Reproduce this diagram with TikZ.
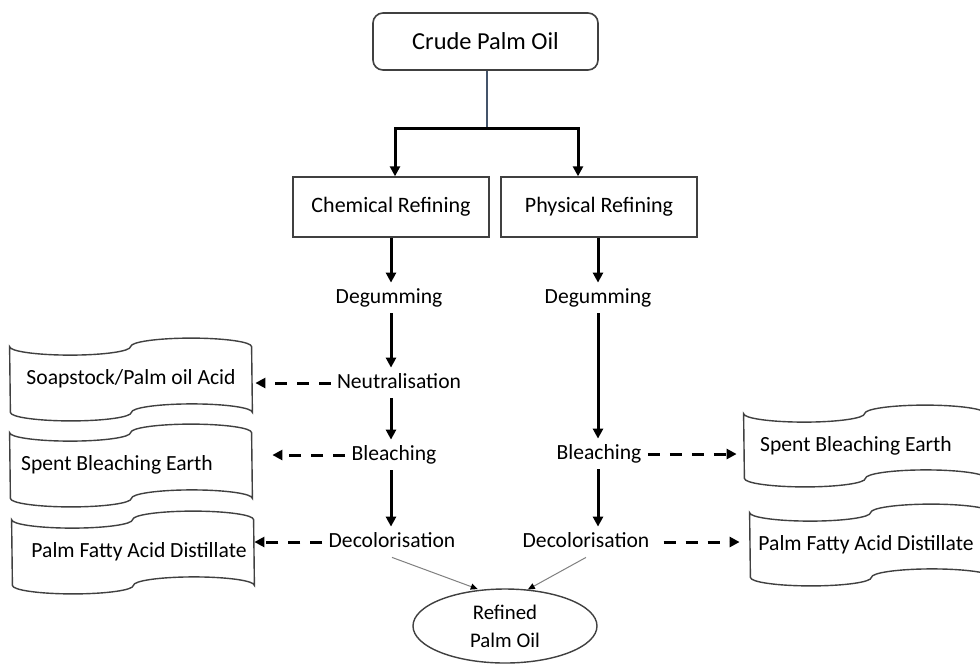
\documentclass[tikz,border=0pt]{standalone}
\usepackage{fontspec}
\setmainfont{Carlito}
\usetikzlibrary{arrows.meta,shapes.geometric}

\definecolor{edge}{HTML}{404040}
\definecolor{slateline}{HTML}{44546A}
\definecolor{thinline}{HTML}{808080}

\newcommand\stepfont{\fontsize{10.8pt}{13pt}\selectfont}

% Outline of a punched-tape shape around a node of 242 x H units
\newcommand\tapeoutline[1]{%
  \draw[tapeedge] (#1.north west)
    arc[start angle=180, end angle=0,   x radius=60.5, y radius=8.5]
    arc[start angle=180, end angle=360, x radius=60.5, y radius=8.5]
    -- (#1.south east)
    arc[start angle=360, end angle=180, x radius=60.5, y radius=8.5]
    arc[start angle=0,   end angle=180, x radius=60.5, y radius=8.5]
    -- cycle;}

\tikzset{
  stepnode/.style={inner xsep=3pt, inner ysep=3pt, text height=7pt, text depth=2pt, font=\stepfont},
  procbox/.style={draw=edge, line width=0.7pt, minimum width=98pt, minimum height=30pt,
    inner sep=0pt, font=\fontsize{11pt}{13pt}\selectfont},
  startbox/.style={draw=edge, line width=0.8pt, rounded corners=5pt, minimum width=112.5pt,
    minimum height=28.5pt, inner sep=0pt, font=\fontsize{12.2pt}{14pt}\selectfont},
  tapebox/.style={minimum width=121pt, minimum height=32.5pt, inner sep=0pt,
    text height=7pt, text depth=2pt, font=\stepfont},
  tapeedge/.style={draw=edge, line width=0.7pt},
  flow/.style={line width=1.5pt, -{Triangle[length=5pt,width=5pt]}},
  byproduct/.style={line width=1.5pt, dash pattern=on 6pt off 5pt,
    -{Triangle[length=5pt,width=5pt]}},
  merge/.style={draw=thinline, line width=0.5pt, -{Triangle[length=3.5pt,width=3pt,color=black]}},
}

\begin{document}
\begin{tikzpicture}[x=0.5pt, y=-0.5pt]
  \useasboundingbox (0,0) rectangle (980,666);
  \fill[white] (0,0) rectangle (980,666);
  \clip (0,0) rectangle (980,666);

  % feedstock and the two refining routes
  \node[startbox] (crude) at (485.5,41.5) {Crude Palm Oil};
  \node[procbox] (chem) at (391,207) {Chemical Refining};
  \node[procbox] (phys) at (599,207) {Physical Refining};

  \coordinate (split) at (487,128);
  \coordinate (inL) at (395,150);
  \coordinate (inR) at (578,150);
  \coordinate (colC) at (391,300);
  \coordinate (colP) at (598,300);

  \draw[slateline, line width=1.1pt] (crude.south -| split) -- (split);
  \draw[line width=1.5pt, {Triangle[length=5pt,width=5pt]}-{Triangle[length=5pt,width=5pt]}]
    (chem.north -| inL) |- (split) -| (phys.north -| inR);

  % process steps
  \node[stepnode] (degC)    at (389,298) {Degumming};
  \node[stepnode] (degP)    at (598,298) {Degumming};
  \node[stepnode] (neut)    at (399,383) {Neutralisation};
  \node[stepnode] (bleachC) at (394,455) {Bleaching};
  \node[stepnode] (bleachP) at (599,454) {Bleaching};
  \node[stepnode] (decolC)  at (392,542) {Decolorisation};
  \node[stepnode] (decolP)  at (586,542) {Decolorisation};

  % chemical route
  \draw[flow] (colC |- chem.south) -- (colC |- degC.north);
  \draw[flow] (colC |- degC.south) -- (colC |- neut.north);
  \draw[flow] (colC |- neut.south) -- (colC |- bleachC.north);
  \draw[flow] (colC |- bleachC.south) -- (colC |- decolC.north);

  % physical route
  \draw[flow] (colP |- phys.south) -- (colP |- degP.north);
  \draw[flow] (colP |- degP.south) -- (colP |- bleachP.north);
  \draw[flow] (colP |- bleachP.south) -- (colP |- decolP.north);

  % by-products
  \node[tapebox] (soap)   at (131,379.5) {Soapstock/Palm oil Acid};
  \node[tapebox] (spentL) at (131,465.5) {Spent Bleaching Earth\hspace*{14pt}};
  \node[tapebox] (pfadL)  at (133,552.5) {\hspace*{6pt}Palm Fatty Acid Distillate};
  \node[tapebox, minimum height=32pt] (spentR) at (865,446) {Spent Bleaching Earth\hspace*{9pt}};
  \node[tapebox, minimum height=32pt] (pfadR)  at (871,545) {Palm Fatty Acid Distillate\hspace*{5pt}};
  \tapeoutline{soap}
  \tapeoutline{spentL}
  \tapeoutline{pfadL}
  \tapeoutline{spentR}
  \tapeoutline{pfadR}

  \draw[byproduct, shorten >=1.5pt] (neut.west) -- (neut.west -| soap.east);
  \draw[byproduct, shorten >=10pt] (bleachC.west) -- (bleachC.west -| spentL.east);
  \draw[byproduct] (decolC.west) -- (decolC.west -| pfadL.east);
  \draw[byproduct, shorten >=3.5pt] (bleachP.east) -- (bleachP.east -| spentR.west);
  \draw[byproduct, shorten >=5pt, shorten <=4pt] (decolP.east) -- (decolP.east -| pfadR.west);

  % final product
  \node[ellipse, draw=edge, line width=0.7pt, minimum width=92pt, minimum height=37pt,
    inner sep=0pt, align=center, font=\fontsize{10.4pt}{14pt}\selectfont]
    (refined) at (505,626) {Refined\\Palm Oil};
  \draw[merge, shorten >=1pt] (decolC.south) -- (refined.125);
  \draw[merge] (decolP.south) -- (refined.58);
\end{tikzpicture}
\end{document}
